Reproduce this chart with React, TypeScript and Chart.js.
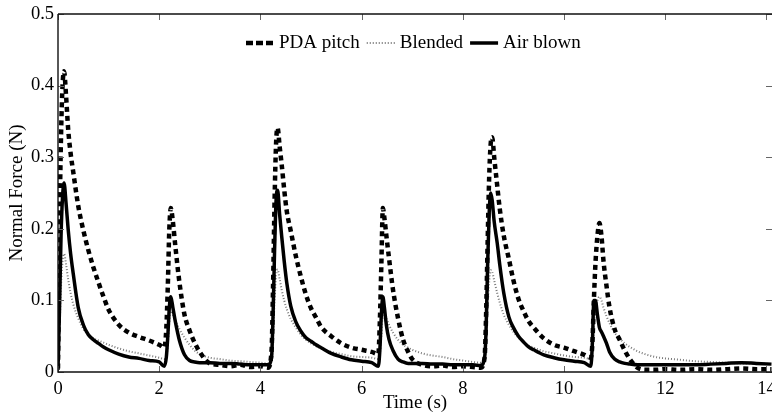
import React, { useEffect, useRef } from 'react';
import { Chart, registerables } from 'chart.js';
Chart.register(...registerables);

// ---- data ----
const timeS = [
  0, 0.03, 0.06, 0.09, 0.12, 0.16, 0.2, 0.25, 0.3, 0.4, 0.5, 0.6, 0.7, 0.8, 0.9, 1.0, 1.2, 1.4, 1.6, 1.8, 2.0, 2.1,
  2.14, 2.17, 2.2, 2.23, 2.27, 2.32, 2.4, 2.5, 2.6, 2.7, 2.8, 3.0, 3.2, 3.4, 3.6, 3.8, 4.0, 4.15, 4.22,
  4.25, 4.28, 4.31, 4.34, 4.38, 4.42, 4.47, 4.52, 4.6, 4.7, 4.8, 4.9, 5.0, 5.1, 5.2, 5.4, 5.6, 5.8, 6.0, 6.2, 6.33,
  6.36, 6.39, 6.42, 6.45, 6.49, 6.54, 6.62, 6.72, 6.82, 6.92, 7.0, 7.2, 7.4, 7.6, 7.8, 8.0, 8.2, 8.35, 8.43,
  8.46, 8.49, 8.52, 8.55, 8.58, 8.62, 8.68, 8.73, 8.81, 8.91, 9.0, 9.1, 9.2, 9.3, 9.4, 9.6, 9.8, 10.0, 10.2, 10.4, 10.53,
  10.56, 10.59, 10.62, 10.66, 10.7, 10.74, 10.78, 10.84, 10.9, 11.0, 11.1, 11.2, 11.3, 11.45, 11.6, 11.8, 12.0, 12.3, 12.6, 12.9, 13.2, 13.5, 13.8, 14.1,
];

const pdaPitch = [
  0.005, 0.2, 0.33, 0.4, 0.42, 0.385, 0.34, 0.305, 0.28, 0.232, 0.198, 0.17, 0.146, 0.125, 0.105, 0.087, 0.066, 0.055, 0.049, 0.044, 0.038, 0.034,
  0.06, 0.12, 0.2, 0.229, 0.21, 0.175, 0.125, 0.08, 0.058, 0.041, 0.028, 0.012, 0.01, 0.008, 0.01, 0.007, 0.008, 0.006, 0.03,
  0.12, 0.24, 0.32, 0.341, 0.315, 0.29, 0.255, 0.225, 0.197, 0.162, 0.133, 0.108, 0.089, 0.076, 0.063, 0.05, 0.04, 0.034, 0.031, 0.028, 0.025,
  0.07, 0.15, 0.229, 0.215, 0.19, 0.16, 0.115, 0.075, 0.045, 0.028, 0.018, 0.01, 0.008, 0.009, 0.007, 0.008, 0.007, 0.006, 0.02,
  0.08, 0.18, 0.27, 0.318, 0.328, 0.3, 0.26, 0.228, 0.19, 0.158, 0.128, 0.102, 0.085, 0.071, 0.062, 0.047, 0.038, 0.034, 0.029, 0.024, 0.02,
  0.04, 0.1, 0.15, 0.19, 0.208, 0.19, 0.155, 0.12, 0.09, 0.06, 0.045, 0.03, 0.018, 0.006, 0.003, 0.003, 0.004, 0.003, 0.004, 0.003, 0.004, 0.005, 0.004, 0.004,
];

const blended = [
  0.003, 0.06, 0.12, 0.155, 0.165, 0.15, 0.13, 0.11, 0.095, 0.075, 0.06, 0.052, 0.047, 0.044, 0.041, 0.038, 0.033, 0.029, 0.026, 0.023, 0.02, 0.018,
  0.02, 0.04, 0.07, 0.085, 0.08, 0.072, 0.06, 0.048, 0.038, 0.03, 0.025, 0.02, 0.018, 0.016, 0.015, 0.014, 0.013, 0.012, 0.015,
  0.05, 0.1, 0.135, 0.143, 0.13, 0.115, 0.1, 0.088, 0.074, 0.062, 0.052, 0.045, 0.04, 0.036, 0.033, 0.028, 0.025, 0.022, 0.021, 0.02, 0.018,
  0.025, 0.05, 0.08, 0.082, 0.075, 0.066, 0.055, 0.045, 0.038, 0.034, 0.031, 0.026, 0.023, 0.021, 0.018, 0.016, 0.014, 0.013, 0.015,
  0.04, 0.09, 0.125, 0.142, 0.14, 0.128, 0.11, 0.097, 0.08, 0.066, 0.056, 0.048, 0.042, 0.037, 0.034, 0.029, 0.026, 0.023, 0.021, 0.02, 0.018,
  0.03, 0.06, 0.085, 0.1, 0.105, 0.1, 0.09, 0.078, 0.068, 0.055, 0.047, 0.04, 0.035, 0.029, 0.025, 0.021, 0.019, 0.017, 0.015, 0.014, 0.013, 0.012, 0.012, 0.011,
];

const airBlown = [
  0.003, 0.09, 0.19, 0.245, 0.264, 0.235, 0.2, 0.165, 0.138, 0.09, 0.066, 0.052, 0.045, 0.04, 0.035, 0.031, 0.025, 0.021, 0.019, 0.016, 0.014, 0.008,
  0.02, 0.05, 0.09, 0.105, 0.09, 0.07, 0.044, 0.024, 0.016, 0.014, 0.013, 0.013, 0.012, 0.012, 0.011, 0.01, 0.01, 0.01, 0.02,
  0.08, 0.17, 0.24, 0.254, 0.22, 0.19, 0.155, 0.125, 0.092, 0.07, 0.057, 0.048, 0.043, 0.038, 0.034, 0.026, 0.021, 0.017, 0.015, 0.013, 0.008,
  0.03, 0.08, 0.105, 0.09, 0.065, 0.046, 0.03, 0.018, 0.014, 0.012, 0.012, 0.012, 0.011, 0.011, 0.01, 0.01, 0.01, 0.009, 0.02,
  0.06, 0.15, 0.22, 0.25, 0.24, 0.21, 0.18, 0.15, 0.11, 0.077, 0.062, 0.05, 0.042, 0.035, 0.031, 0.024, 0.02, 0.017, 0.015, 0.013, 0.008,
  0.04, 0.1, 0.1, 0.08, 0.062, 0.056, 0.05, 0.04, 0.028, 0.018, 0.014, 0.012, 0.011, 0.01, 0.01, 0.01, 0.01, 0.01, 0.01, 0.011, 0.012, 0.013, 0.012, 0.011,
];

const seriesNames = ['PDA pitch', 'Blended', 'Air blown'];
const xTicks = [0, 2, 4, 6, 8, 10, 12, 14];
const yTicks = [0, 0.1, 0.2, 0.3, 0.4, 0.5];
const xTitle = 'Time (s)';
const yTitle = 'Normal Force (N)';

const FONT = '"Liberation Serif", "Times New Roman", serif';

const framePlugin = {
  id: 'frameTicks',
  afterDatasetsDraw(chart: any) {
    const { ctx, chartArea, scales } = chart;
    const { left, right, top, bottom } = chartArea;
    ctx.save();
    ctx.lineWidth = 1;
    ctx.strokeStyle = '#666';
    ctx.beginPath();
    for (const v of xTicks) {
      const px = Math.round(scales.x.getPixelForValue(v)) + 0.5;
      ctx.moveTo(px, bottom); ctx.lineTo(px, bottom - 6);
      ctx.moveTo(px, top); ctx.lineTo(px, top + 6);
    }
    for (const v of yTicks) {
      const py = Math.round(scales.y.getPixelForValue(v)) + 0.5;
      ctx.moveTo(left, py); ctx.lineTo(left + 6, py);
      ctx.moveTo(right, py); ctx.lineTo(right - 6, py);
    }
    ctx.stroke();
    ctx.strokeStyle = '#111';
    ctx.lineWidth = 1.4;
    ctx.beginPath();
    ctx.moveTo(left, top); ctx.lineTo(left, bottom); ctx.lineTo(right, bottom);
    ctx.moveTo(left, top); ctx.lineTo(right, top);
    ctx.stroke();
    ctx.restore();
  },
};

const legendPlugin = {
  id: 'insideLegend',
  afterDraw(chart: any) {
    const { ctx, chartArea } = chart;
    const ds = chart.data.datasets;
    const x0 = chartArea.left + 188;
    const lineY = chartArea.top + 29;
    const baseY = chartArea.top + 34;
    const sampleW = 28;
    const gapAfterSample = 5;
    const gapAfterText = 7;
    ctx.save();
    ctx.font = `19px ${FONT}`;
    ctx.textBaseline = 'alphabetic';
    ctx.textAlign = 'left';
    let x = x0;
    ds.forEach((d: any, i: number) => {
      ctx.beginPath();
      ctx.strokeStyle = d.borderColor;
      ctx.lineWidth = d.borderWidth;
      ctx.setLineDash(d.legendDash || []);
      ctx.moveTo(x, lineY);
      ctx.lineTo(x + sampleW, lineY);
      ctx.stroke();
      ctx.setLineDash([]);
      x += sampleW + gapAfterSample;
      ctx.fillStyle = '#000';
      ctx.fillText(seriesNames[i], x, baseY);
      x += ctx.measureText(seriesNames[i]).width + gapAfterText;
    });
    ctx.restore();
  },
};

export default function App() {
  const ref = useRef<HTMLCanvasElement | null>(null);
  useEffect(() => {
    if (!ref.current) return;
    const pts = (ys: number[]) => timeS.map((t, i) => ({ x: t, y: ys[i] }));
    const chart = new Chart(ref.current, {
      type: 'line',
      data: {
        datasets: [
          {
            label: seriesNames[0], data: pts(pdaPitch), borderColor: '#000', borderWidth: 4.5,
            borderDash: [5, 4], legendDash: [7, 3], pointRadius: 0, order: 1, cubicInterpolationMode: 'monotone',
          } as any,
          {
            label: seriesNames[1], data: pts(blended), borderColor: '#7a7a7a', borderWidth: 2,
            borderDash: [1, 2], legendDash: [1, 2], pointRadius: 0, order: 2, cubicInterpolationMode: 'monotone',
          } as any,
          {
            label: seriesNames[2], data: pts(airBlown), borderColor: '#000', borderWidth: 3.5,
            pointRadius: 0, order: 0, cubicInterpolationMode: 'monotone',
          } as any,
        ],
      },
      options: {
        responsive: false,
        animation: false,
        layout: { padding: { top: 14, left: 0, right: 0, bottom: 0 } },
        plugins: { legend: { display: false }, tooltip: { enabled: false } },
        scales: {
          x: {
            type: 'linear', min: 0, max: 14.11,
            grid: { display: false, drawTicks: false },
            border: { display: false },
            afterBuildTicks: (s: any) => { s.ticks = xTicks.map((v) => ({ value: v })); },
            afterFit: (s: any) => { s.height = 41; s.paddingLeft = 0; s.paddingRight = 0; },
            ticks: {
              autoSkip: false, maxRotation: 0, padding: 6, color: '#000',
              font: { family: FONT, size: 18.5 }, callback: (v: any) => String(v),
            },
            title: {
              display: true, text: xTitle, color: '#000',
              font: { family: FONT, size: 19, lineHeight: 1 }, padding: { top: 0, bottom: 0 },
            },
          },
          y: {
            type: 'linear', min: 0, max: 0.5,
            grid: { display: false, drawTicks: false },
            border: { display: false },
            afterBuildTicks: (s: any) => { s.ticks = yTicks.map((v) => ({ value: v })); },
            afterFit: (s: any) => { s.width = 58; s.paddingTop = 0; s.paddingBottom = 0; },
            ticks: {
              padding: 4, color: '#000',
              font: { family: FONT, size: 18.5 }, callback: (v: any) => String(v),
            },
            title: {
              display: true, text: yTitle, color: '#000',
              font: { family: FONT, size: 19, lineHeight: 1 }, padding: { top: 8, bottom: 0 },
            },
          },
        },
      } as any,
      plugins: [framePlugin, legendPlugin],
    });
    return () => chart.destroy();
  }, []);
  return (
    <div style={{ position: 'fixed', left: 0, top: 0, width: 772, height: 413, background: '#fff' }}>
      <canvas ref={ref} width={772} height={413} style={{ display: 'block' }} />
    </div>
  );
}
